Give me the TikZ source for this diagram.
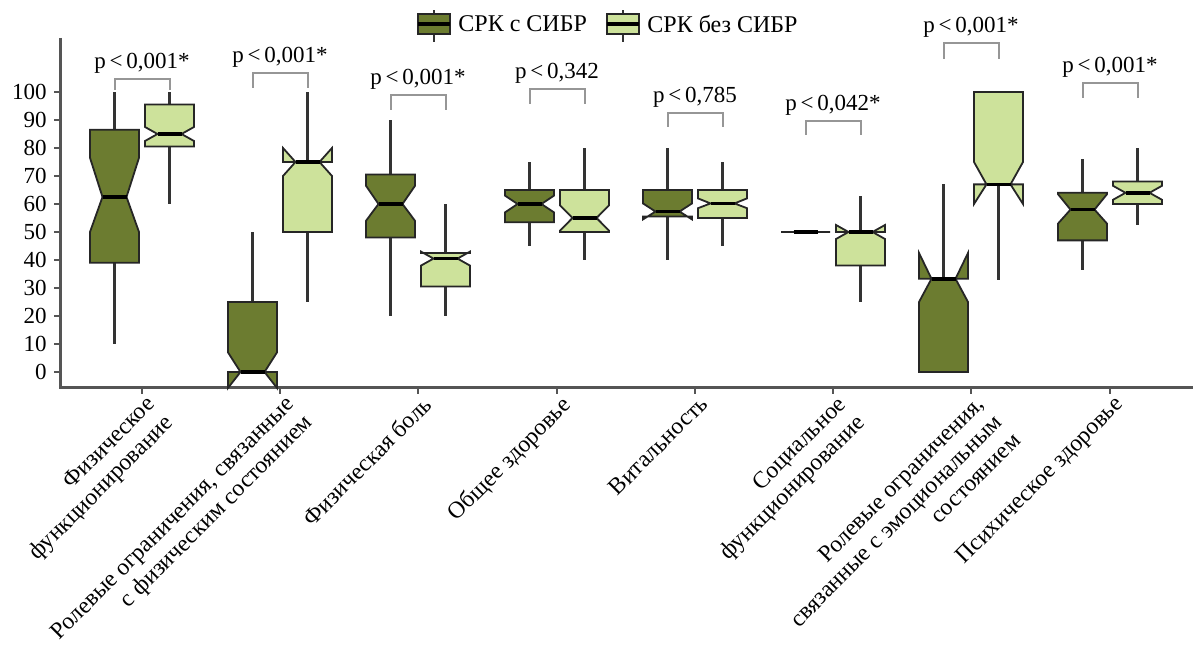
\documentclass[tikz,border=0pt]{standalone}
\usepackage{fontspec}
\setmainfont{Liberation Serif}
\usetikzlibrary{positioning}
\definecolor{darkolive}{RGB}{108,124,48}
\definecolor{paleolive}{RGB}{205,226,155}
\definecolor{axisgray}{RGB}{85,85,85}
\definecolor{brackgray}{RGB}{150,150,150}
\tikzset{
  whisk/.style={draw=black!80,line width=1.2pt},
  boxline/.style={draw=black!85,line width=0.9pt,line join=miter},
  medline/.style={draw=black,line width=1.8pt},
  brack/.style={draw=brackgray,line width=1pt},
  pval/.style={font=\fontsize{11.5}{13}\selectfont,inner sep=0pt},
  catlabel/.style={font=\fontsize{11.8}{13}\selectfont,align=right,rotate=45,anchor=north east,inner sep=0pt},
  ylab/.style={font=\fontsize{11.5}{13}\selectfont,anchor=east,inner sep=0pt}
}
% notched box: x, whisker lo, q1, notch lo, median, notch hi, q3, whisker hi, fill
\newcommand{\nbox}[9]{%
  \draw[whisk] (#1,#2) -- (#1,#3);
  \draw[whisk] (#1,#7) -- (#1,#8);
  \filldraw[boxline,fill=#9] ({#1-24.5},#7) -- ({#1+24.5},#7) -- ({#1+24.5},#6) -- ({#1+12},#5)
    -- ({#1+24.5},#4) -- ({#1+24.5},#3) -- ({#1-24.5},#3) -- ({#1-24.5},#4) -- ({#1-12},#5)
    -- ({#1-24.5},#6) -- cycle;
  \draw[medline] ({#1-12},#5) -- ({#1+12},#5);
}
% p-value bracket: name, left x, right x, top, leg end, text
\newcommand{\pbrack}[6]{%
  \coordinate (#1) at ({(#2+#3)/2},#4);
  \draw[brack] (#2,#5) -- (#2,#4) -- (#3,#4) -- (#3,#5);
  \node[pval,above=2.5pt of #1] (#1txt) {#6};
}

\begin{document}
\begin{tikzpicture}[x=0.5pt,y=0.5pt]
\useasboundingbox (0,0) rectangle (1200,647);

% legend
\draw[whisk] (434,605) -- (434,637);
\filldraw[boxline,fill=darkolive] (418,613) rectangle (450,633);
\draw[medline] (418,623) -- (450,623);
\node[pval,font=\fontsize{12}{13}\selectfont,anchor=west] (leg1) at (458,623) {СРК с СИБР};
\draw[whisk] (623,605) -- (623,637);
\filldraw[boxline,fill=paleolive] (607,613) rectangle (639,633);
\draw[medline] (607,623) -- (639,623);
\node[pval,font=\fontsize{12}{13}\selectfont,anchor=west] (leg2) at (647,623) {СРК без СИБР};

% axes
\draw[axisgray,line width=1.5pt] (60,609) -- (60,259) -- (1193,259);
\foreach \c in {142,280,418,557,695,833,971,1110}
  \draw[axisgray,line width=1pt] (\c,259) -- (\c,253);

\begin{scope}[yshift=137.5pt,y=1.4pt]
\foreach \v in {0,10,...,100}{
  \draw[axisgray,line width=0.8pt] (54,\v) -- (60,\v);
  \node[ylab] (y\v) at (47,\v) {\v};
}
% boxes
\nbox{114.5}{10}{39}{50}{62.5}{76.5}{86.5}{100}{darkolive}  % physical functioning
\nbox{169.5}{60}{80.5}{82.5}{85}{87.5}{95.5}{100}{paleolive}
\nbox{252.5}{0}{0}{-5.7}{0}{7}{25}{50}{darkolive}
\nbox{307.5}{25}{50}{70}{75}{80}{75}{100}{paleolive}
\nbox{390.5}{20}{48}{54}{60}{66.5}{70.5}{90}{darkolive}
\nbox{445.5}{20}{30.5}{38}{40.5}{43}{42.5}{60}{paleolive}
\nbox{529.5}{45}{53.5}{57}{60}{63}{65}{75}{darkolive}
\nbox{584.5}{40}{50}{50.5}{55}{59.5}{65}{80}{paleolive}
\nbox{667.5}{40}{55.5}{54.5}{57.3}{60.2}{65}{80}{darkolive}
\nbox{722.5}{45}{55}{58.5}{60.2}{62}{65}{75}{paleolive}
\nbox{805.5}{50}{50}{50}{50}{50}{50}{50}{darkolive}
\nbox{860.5}{25}{38}{47.5}{50}{52.5}{50}{63}{paleolive}
\nbox{943.5}{0}{0}{25}{33.3}{42.5}{33.3}{67}{darkolive}
\nbox{998.5}{33}{67}{60}{67}{75}{100}{100}{paleolive}
\nbox{1082.5}{36.5}{47}{53}{58}{63.5}{64}{76}{darkolive}  % mental health
\nbox{1137.5}{52.5}{60}{61.5}{64}{66.5}{68}{80}{paleolive}
\end{scope}

% p values
\pbrack{b1}{114.5}{169.5}{568}{557}{p\,<\,0,001*}
\pbrack{b2}{252.5}{307.5}{574}{559}{p\,<\,0,001*}
\pbrack{b3}{390.5}{445.5}{552}{537}{p\,<\,0,001*}
\pbrack{b4}{529.5}{584.5}{558}{543}{p\,<\,0,342}
\pbrack{b5}{667.5}{722.5}{534}{520}{p\,<\,0,785}
\pbrack{b6}{805.5}{860.5}{526}{512}{p\,<\,0,042*}
\pbrack{b7}{943.5}{998.5}{604}{588}{p\,<\,0,001*}
\pbrack{b8}{1082.5}{1137.5}{564}{549}{p\,<\,0,001*}

% category labels
\node[catlabel] (cat1) at (145,253) {Физическое\\функционирование};
\node[catlabel] (cat2) at (284,253) {Ролевые ограничения, связанные\\с физическим состоянием};
\node[catlabel] (cat3) at (421,253) {Физическая боль};
\node[catlabel] (cat4) at (560,253) {Общее здоровье};
\node[catlabel] (cat5) at (698,253) {Витальность};
\node[catlabel] (cat6) at (836,253) {Социальное\\функционирование};
\node[catlabel] (cat7) at (974,253) {Ролевые ограничения,\\связанные с эмоциональным\\состоянием};
\node[catlabel] (cat8) at (1113,253) {Психическое здоровье};
\end{tikzpicture}
\end{document}
